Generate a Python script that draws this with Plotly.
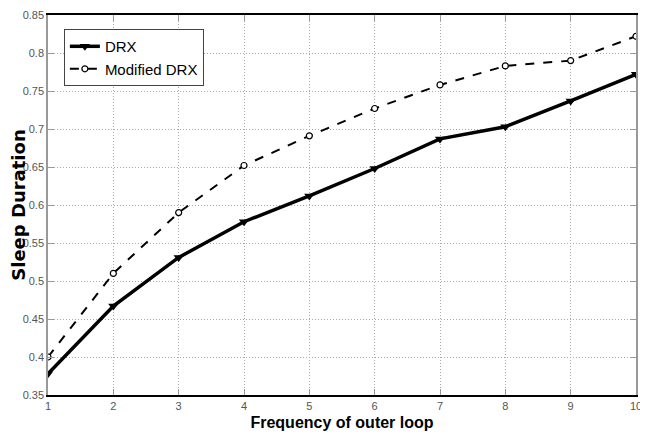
import plotly.graph_objects as go

x_vals = [1, 2, 3, 4, 5, 6, 7, 8, 9, 10]
drx = [0.378, 0.467, 0.531, 0.578, 0.612, 0.648, 0.687, 0.703, 0.737, 0.772]
modified_drx = [0.400, 0.510, 0.590, 0.652, 0.691, 0.727, 0.758, 0.783, 0.790, 0.822]
y_ticks = [0.35, 0.4, 0.45, 0.5, 0.55, 0.6, 0.65, 0.7, 0.75, 0.8, 0.85]
y_tick_labels = ["0.35", "0.4", "0.45", "0.5", "0.55", "0.6", "0.65", "0.7", "0.75", "0.8", "0.85"]

tick_font = dict(family="Liberation Sans Narrow, Arial Narrow, Liberation Sans, Arial", size=11, color="#555555")

fig = go.Figure()
fig.add_trace(go.Scatter(
    x=x_vals, y=drx, name="DRX", mode="lines+markers",
    line=dict(color="black", width=3.5),
    marker=dict(symbol="triangle-down", size=9, color="black"),
))
fig.add_trace(go.Scatter(
    x=x_vals, y=modified_drx, name="Modified DRX", mode="lines+markers",
    line=dict(color="black", width=2, dash="dash"),
    marker=dict(symbol="circle", size=6, color="white", line=dict(color="black", width=1.2)),
))

fig.update_layout(
    width=640, height=438,
    margin=dict(l=40, r=12, t=7, b=51, autoexpand=False),
    paper_bgcolor="white", plot_bgcolor="white",
    showlegend=True,
    legend=dict(
        x=0.027, y=0.963, xanchor="left", yanchor="top",
        bgcolor="white", bordercolor="#444444", borderwidth=1,
        font=dict(family="Liberation Sans, Arial", size=15, color="black"),
        tracegroupgap=0, itemwidth=30,
    ),
    xaxis=dict(
        range=[1, 10], tickmode="array", tickvals=x_vals,
        ticktext=[str(v) for v in x_vals],
        showgrid=True, gridcolor="#a8a8a8", griddash="1px,2px", gridwidth=1,
        showline=True, linecolor="black", linewidth=1.5, mirror="ticks",
        ticks="inside", ticklen=6, tickcolor="#999999", tickwidth=1,
        tickfont=tick_font, zeroline=False, automargin=False,
        title=dict(text="<b>Frequency of outer loop</b>",
                   font=dict(family="Liberation Sans Narrow, Arial Narrow, Liberation Sans", size=16, color="black"),
                   standoff=6),
    ),
    yaxis=dict(
        range=[0.35, 0.85], tickmode="array", tickvals=y_ticks, ticktext=y_tick_labels,
        showgrid=True, gridcolor="#a8a8a8", griddash="1px,2px", gridwidth=1,
        showline=True, linecolor="#999999", linewidth=1.5, mirror="ticks",
        ticks="inside", ticklen=6, tickcolor="#999999", tickwidth=1,
        tickfont=tick_font, zeroline=False, automargin=False,
        title=dict(text="<b>Sleep Duration</b>",
                   font=dict(family="DejaVu Sans, Liberation Sans", size=18, color="black"),
                   standoff=4),
    ),
)

fig.write_html("out.html")
